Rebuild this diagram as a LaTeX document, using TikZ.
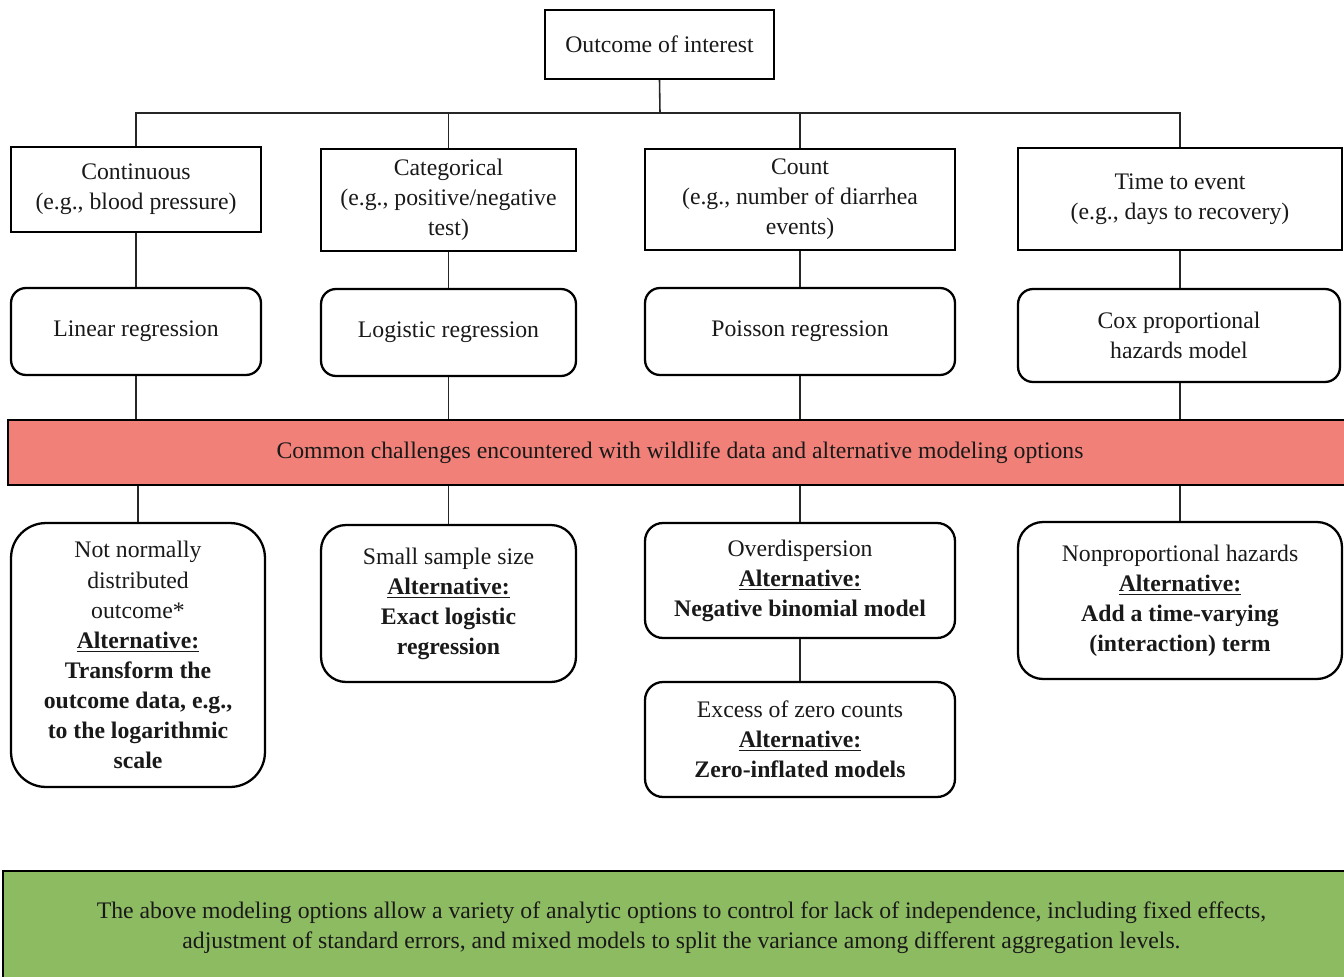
\documentclass[tikz,border=0pt]{standalone}
\usepackage{fontspec}
\setmainfont{Liberation Serif}
\definecolor{challengered}{HTML}{F08078}
\definecolor{noteGreen}{HTML}{8DBB62}
\begin{document}
\begin{tikzpicture}[x=0.02cm,y=-0.02cm,
  txt/.style={font=\fontsize{13.5pt}{17.1pt}\selectfont, align=center, inner sep=0pt, text=black!90},
  sqbox/.style={txt, draw, line width=1.3pt, rectangle},
  rbox/.style={txt, draw, line width=1.3pt, rectangle, rounded corners=#1},
  rbox/.default=0.3cm,
  link/.style={line width=0.9pt, draw=black!85}]
\useasboundingbox (0,0) rectangle (1344,976);

% top
\node[sqbox, minimum width=4.58cm, minimum height=1.38cm] (out) at (659.5,44.5) {Outcome of interest};

% outcome types
\node[sqbox, minimum width=5.0cm, minimum height=1.70cm] (cont) at (136,189.5) {Continuous\\(e.g., blood pressure)};
\node[sqbox, minimum width=5.1cm, minimum height=2.04cm] (cat) at (448.5,200) {Categorical\\(e.g., positive/negative\\test)};
\node[sqbox, minimum width=6.2cm, minimum height=2.02cm] (cnt) at (800,199.5) {Count\\(e.g., number of diarrhea\\events)};
\node[sqbox, minimum width=6.48cm, minimum height=2.04cm] (tte) at (1180,199) {Time to event\\(e.g., days to recovery)};

% standard models
\node[rbox, minimum width=5.0cm, minimum height=1.74cm] (lin) at (136,331.5) {Linear regression};
\node[rbox, minimum width=5.1cm, minimum height=1.74cm] (logi) at (448.5,332.5) {Logistic regression};
\node[rbox, minimum width=6.2cm, minimum height=1.74cm] (poi) at (800,331.5) {Poisson regression};
\node[rbox, minimum width=6.44cm, minimum height=1.86cm] (cox) at (1179,335.5) {Cox proportional\\hazards model};

% challenges banner
\node[txt, draw, line width=1.3pt, fill=challengered, minimum width=26.88cm, minimum height=1.30cm] (chal) at (680,452.5)
  {Common challenges encountered with wildlife data and alternative modeling options};

% challenges and alternatives
\node[rbox=0.7cm, minimum width=5.08cm, minimum height=5.28cm] (nn) at (138,655)
  {Not normally\\distributed\\outcome*\\\textbf{\underline{Alternative:}}\\\textbf{Transform the}\\\textbf{outcome data, e.g.,}\\\textbf{to the logarithmic}\\\textbf{scale}};
\node[rbox=0.5cm, minimum width=5.1cm, minimum height=3.14cm] (small) at (448.5,603.5)
  {Small sample size\\\textbf{\underline{Alternative:}}\\\textbf{Exact logistic}\\\textbf{regression}};
\node[rbox=0.36cm, minimum width=6.2cm, minimum height=2.3cm] (od) at (800,580.5)
  {Overdispersion\\\textbf{\underline{Alternative:}}\\\textbf{Negative binomial model}};
\node[rbox=0.36cm, minimum width=6.2cm, minimum height=2.3cm] (zero) at (800,739.5)
  {Excess of zero counts\\\textbf{\underline{Alternative:}}\\\textbf{Zero-inflated models}};
\node[rbox=0.5cm, minimum width=6.48cm, minimum height=3.14cm] (np) at (1180,600.5)
  {Nonproportional hazards\\\textbf{\underline{Alternative:}}\\\textbf{Add a time-varying}\\\textbf{(interaction) term}};

% note
\node[txt, draw, line width=1.3pt, fill=noteGreen, minimum width=27.14cm, minimum height=2.26cm] (note) at (681.5,927.5)
  {The above modeling options allow a variety of analytic options to control for lack of independence, including fixed effects,\\adjustment of standard errors, and mixed models to split the variance among different aggregation levels.};

% connectors
\coordinate (bus) at (660,113);
\draw[link] (out.south) -- (bus);
\draw[link] (bus) -| (cont.north);
\draw[link] (bus) -| (cat.north);
\draw[link] (bus) -| (cnt.north);
\draw[link] (bus) -| (tte.north);

\draw[link] (cont) -- (lin);
\draw[link] (cat) -- (logi);
\draw[link] (cnt) -- (poi);
\draw[link] (tte.south) -- (tte.south |- cox.north);

\draw[link] (lin.south) -- (lin.south |- chal.north);
\draw[link] (logi.south) -- (logi.south |- chal.north);
\draw[link] (poi.south) -- (poi.south |- chal.north);
\draw[link] (cox.south -| tte.south) -- (tte.south |- chal.north);

\draw[link] (nn.north) -- (nn.north |- chal.south);
\draw[link] (small.north) -- (small.north |- chal.south);
\draw[link] (od.north) -- (od.north |- chal.south);
\draw[link] (np.north) -- (np.north |- chal.south);
\draw[link] (od) -- (zero);
\end{tikzpicture}
\end{document}
